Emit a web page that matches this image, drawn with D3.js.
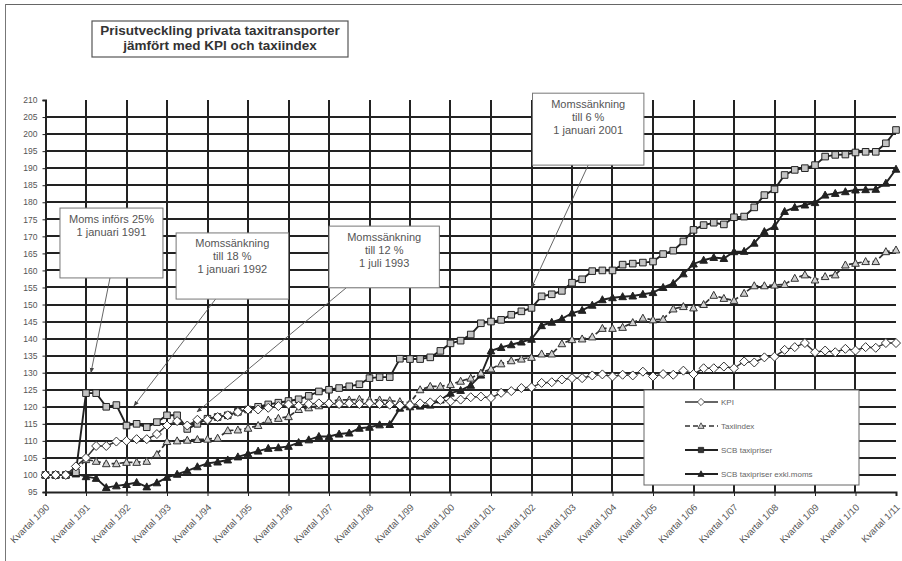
<!DOCTYPE html>
<html><head><meta charset="utf-8">
<script src="https://cdn.jsdelivr.net/npm/d3@7"></script>
<style>
body{margin:0;background:#fff}
svg{display:block}
text{font-family:"Liberation Sans",Arial,Helvetica,sans-serif}
</style>
</head><body>
<svg id="chart" width="902" height="561"></svg>
<script>
// ---------- data ----------
const titleLines = ["Prisutveckling privata taxitransporter", "jämfört med KPI och taxiindex"];
const xTickLabels = ["Kvartal 1/90","Kvartal 1/91","Kvartal 1/92","Kvartal 1/93","Kvartal 1/94","Kvartal 1/95",
  "Kvartal 1/96","Kvartal 1/97","Kvartal 1/98","Kvartal 1/99","Kvartal 1/00","Kvartal 1/01","Kvartal 1/02",
  "Kvartal 1/03","Kvartal 1/04","Kvartal 1/05","Kvartal 1/06","Kvartal 1/07","Kvartal 1/08","Kvartal 1/09",
  "Kvartal 1/10","Kvartal 1/11"];
const yTicks = [95,100,105,110,115,120,125,130,135,140,145,150,155,160,165,170,175,180,185,190,195,200,205,210];
const seriesNames = ["KPI","Taxiindex","SCB taxipriser","SCB taxipriser exkl.moms"];

const kpi = [
  100,100,100,102.5,105,108.5,108.5,109.8,110,110.5,
  110.5,112,114.5,115.8,114.5,116.2,116.2,117,117.5,118.5,
  119.2,119.2,119.7,120.2,120.7,120.3,120.8,121,121,120.8,
  121,120.8,121,120.8,120.6,120.4,120.5,121,121.3,122,
  121.6,122.1,122.8,123,122.6,124.1,124.6,125.5,125.7,127,
  127.2,128,128.4,128.4,129.2,129.5,128.9,129.4,129.2,130.3,
  128.9,129.6,129.4,130.6,129.6,131.3,131.3,131.8,131.3,133.3,
  133,134.5,134.7,136.7,137.5,138.7,136,136.5,136,137,
  136.5,137.5,137.3,138.7,138.7];
const taxiindex = [
  100,100,100,101.5,104.5,104,103.3,103.3,103.7,103.7,
  104,106,109.8,110,110.2,110.4,110.5,110.8,113,113.2,
  113.7,114.5,116.1,116.6,117.1,119.2,119.7,120.3,121.5,122,
  122,122.2,122,122,121.8,121.5,121.2,125,126,126,
  126.5,127.5,128.4,129.9,131.1,132.6,133.5,134,134.5,135.5,
  135.5,138.5,139.7,139.9,140.5,143,143,143.3,144.7,146,
  145.5,145.7,148.7,149.4,149,150,152.7,151.8,151.2,153.3,
  155.5,155.5,155.7,155.9,157.7,158.7,157.2,158.2,158.7,161.6,
  162.1,162.6,162.6,165.5,166];
const scbTaxipriser = [
  100,100,100,100.8,124,124,120,120.5,114.5,115,
  114,115.5,117.5,117.5,113.5,115,116.5,117,117.5,118.5,
  119.2,120,120.7,121.2,121.7,122.2,123.2,124.5,125,125.5,
  126,126.6,128.4,128.7,128.7,134.1,134,134,134.5,136.4,
  138.6,139.4,141.2,144.5,145,145.5,147,148,149,152.4,
  153,154,156.4,157.4,159.8,160,160,161.7,162,162.3,
  162.6,164.8,165.8,168.5,171.9,173.3,174,173.5,175.6,175.8,
  178.5,182.1,183.8,188,189.5,190,190.9,193.4,193.9,194,
  194.6,194.8,194.8,197.3,201.2];
const scbExklMoms = [
  100,100,100,100.3,99.5,99,96.3,96.8,97.2,97.8,
  96.5,97.7,99.3,100.2,101.2,102.4,103.4,103.8,104.4,105.3,
  106.2,107,107.8,108,108.4,109.5,110.3,111.3,111.3,112,
  112.3,113.7,114,114.7,114.8,119.6,120,120.2,120.5,122,
  124,124.8,126.3,129.3,136.4,137.4,138.2,139,139.8,143.8,
  144.8,145.8,147.5,148.3,149.8,151.4,152,152.3,152.5,153,
  153.5,155,156.2,159,161.9,163,163.8,163.5,165.5,165.6,
  168,171.4,172.9,177.3,178.5,179.2,179.9,182.1,182.6,183.1,
  183.6,183.7,183.8,185.6,189.7];

const annotationTexts = [
  ["Moms införs 25%", "1 januari 1991"],
  ["Momssänkning", "till 18 %", "1 januari 1992"],
  ["Momssänkning", "till 12 %", "1 juli 1993"],
  ["Momssänkning", "till 6 %", "1 januari 2001"]
];

// ---------- layout ----------
const svg = d3.select("#chart");
const W = 902, H = 561;
const x = d3.scaleLinear().domain([0, 84]).range([45.5, 896]);
const y = d3.scaleLinear().domain([95, 210]).range([492, 100]);
const gridColor = "#222";
const txtColor = "#555";

// frame fragments
svg.append("line").attr("x1",5).attr("x2",W).attr("y1",4.5).attr("y2",4.5).attr("stroke","#666").attr("stroke-width",1.2);
svg.append("line").attr("x1",5.5).attr("x2",5.5).attr("y1",4).attr("y2",H).attr("stroke","#777").attr("stroke-width",1);

// grid (snapped to whole pixels so the 2px lines stay crisp)
const yearIdx = xTickLabels.map((d,k)=>k*4);
const gh = svg.append("g"), gv = svg.append("g");
gh.selectAll("line").data(yTicks.filter(v=>v>95 && v<210)).join("line")
  .attr("x1", x(0)).attr("x2", x(84)).attr("y1", d=>Math.round(y(d))).attr("y2", d=>Math.round(y(d)))
  .attr("stroke", gridColor).attr("stroke-width", 2);
gv.selectAll("line").data(yearIdx.filter(i=>i>0 && i<84)).join("line")
  .attr("x1", d=>Math.round(x(d))).attr("x2", d=>Math.round(x(d))).attr("y1", y(210)).attr("y2", y(95))
  .attr("stroke", gridColor).attr("stroke-width", 2);

// axes
const yAxis = svg.append("g").attr("transform",`translate(${x(0)},0)`)
  .call(d3.axisLeft(y).tickValues(yTicks).tickSize(3).tickPadding(5).tickFormat(d3.format("d")));
yAxis.select(".domain").attr("stroke","#222").attr("stroke-width",2);
yAxis.selectAll(".tick line").attr("stroke","#222");
yAxis.selectAll(".tick text").attr("fill",txtColor).style("font-size","8.5px");

const xAxis = svg.append("g").attr("transform",`translate(0,${y(95)})`)
  .call(d3.axisBottom(x).tickValues(yearIdx).tickSize(4).tickFormat((d,k)=>xTickLabels[k]));
xAxis.select(".domain").attr("stroke","#222").attr("stroke-width",2);
xAxis.selectAll(".tick line").attr("stroke","#222");
xAxis.selectAll(".tick text").attr("fill",txtColor).style("font-size","9.5px")
  .attr("text-anchor","end").attr("dy",null).attr("y",null)
  .attr("transform","translate(4,16) rotate(-45)");

// series
const markerDiamond = "M0,-4.5L4.5,0L0,4.5L-4.5,0Z";
const markerTri = "M0,-4L3.8,3L-3.8,3Z";
const markerSq = "M-3.3,-3.3H3.3V3.3H-3.3Z";
const series = [
  {name: seriesNames[3], values: scbExklMoms, dash: null, lw: 1.9, marker: markerTri, fill: "#222", stroke:"#222"},
  {name: seriesNames[1], values: taxiindex, dash: "5,3", lw: 1.7, marker: markerTri, fill: "#cfcfcf", stroke:"#333"},
  {name: seriesNames[2], values: scbTaxipriser, dash: null, lw: 1.9, marker: markerSq, fill: "#c4c4c4", stroke:"#222"},
  {name: seriesNames[0], values: kpi, dash: null, lw: 1.5, marker: markerDiamond, fill: "#fff", stroke:"#333"}
];
const line = d3.line().x((d,i)=>x(i)).y(d=>y(d));
series.forEach(s=>{
  svg.append("path").attr("d", line(s.values)).attr("fill","none")
    .attr("stroke", s.stroke).attr("stroke-width", s.lw).attr("stroke-dasharray", s.dash);
  svg.append("g").selectAll("path").data(s.values).join("path")
    .attr("d", s.marker).attr("transform",(d,i)=>`translate(${x(i)},${y(d)})`)
    .attr("fill", s.fill).attr("stroke", s.stroke).attr("stroke-width", 1);
});

// annotations (anchored in data space)
const annLayout = [
  {box:[1.43, 11.6, 178.3, 157.8], from:[6.37,157.8], to:[4.49,130.0]},
  {box:[12.9, 24.0, 171.0, 151.6], from:[16.8,151.6], to:[8.74,120.3]},
  {box:[28.0, 38.9, 173.0, 154.9], from:[29.7,154.9], to:[14.96,118.5]},
  {box:[48.1, 59.1, 212.0, 190.9], from:[53.6,190.9], to:[48.0,154.9]}
];
const defs = svg.append("defs");
defs.append("marker").attr("id","ah").attr("viewBox","0 0 10 10").attr("refX",9).attr("refY",5)
  .attr("markerWidth",6).attr("markerHeight",6).attr("orient","auto")
  .append("path").attr("d","M0,1L10,5L0,9Z").attr("fill","#444");
annLayout.forEach((a,k)=>{
  const [q0,q1,vt,vb] = a.box;
  const cx = (x(q0)+x(q1))/2;
  svg.append("line").attr("x1",x(a.from[0])).attr("y1",y(a.from[1])).attr("x2",x(a.to[0])).attr("y2",y(a.to[1]))
    .attr("stroke","#555").attr("stroke-width",0.9).attr("marker-end","url(#ah)");
  svg.append("rect").attr("x",x(q0)).attr("y",y(vt)).attr("width",x(q1)-x(q0)).attr("height",y(vb)-y(vt))
    .attr("fill","#fff").attr("stroke","#777").attr("stroke-width",1);
  svg.append("text").attr("x",cx).attr("y",y(vt)+14.5)
    .attr("text-anchor","middle").attr("fill",txtColor).style("font-size","11px")
    .selectAll("tspan").data(annotationTexts[k]).join("tspan")
    .attr("x",cx).attr("dy",(d,j)=>j?13:0).text(d=>d);
});

// title
svg.append("rect").attr("x",92).attr("y",21).attr("width",256).attr("height",36)
  .attr("fill","#fff").attr("stroke","#555").attr("stroke-width",1.2);
svg.append("text").attr("text-anchor","middle").attr("fill","#333")
  .style("font-size","13.5px").style("font-weight","bold")
  .selectAll("tspan").data(titleLines).join("tspan")
  .attr("x",220).attr("y",(d,j)=>35+j*15).text(d=>d);

// legend
const lg = svg.append("g");
lg.append("rect").attr("x",644).attr("y",390).attr("width",215).attr("height",95)
  .attr("fill","#fff").attr("stroke","#666").attr("stroke-width",1);
const legendRows = seriesNames.map(n=>series.find(s=>s.name===n));
legendRows.forEach((s,k)=>{
  const yy = 402 + k*24;
  lg.append("line").attr("x1",685).attr("x2",718).attr("y1",yy).attr("y2",yy)
    .attr("stroke",s.stroke).attr("stroke-width",s.lw).attr("stroke-dasharray",s.dash);
  lg.append("path").attr("d",s.marker).attr("transform",`translate(701,${yy}) scale(0.8)`)
    .attr("fill", s.name===seriesNames[2] ? "#333" : s.fill).attr("stroke",s.stroke).attr("stroke-width",1);
  lg.append("text").attr("x",721).attr("y",yy).attr("dy","0.35em").attr("fill","#666")
    .style("font-size","8px").text(s.name);
});
</script>
</body></html>
